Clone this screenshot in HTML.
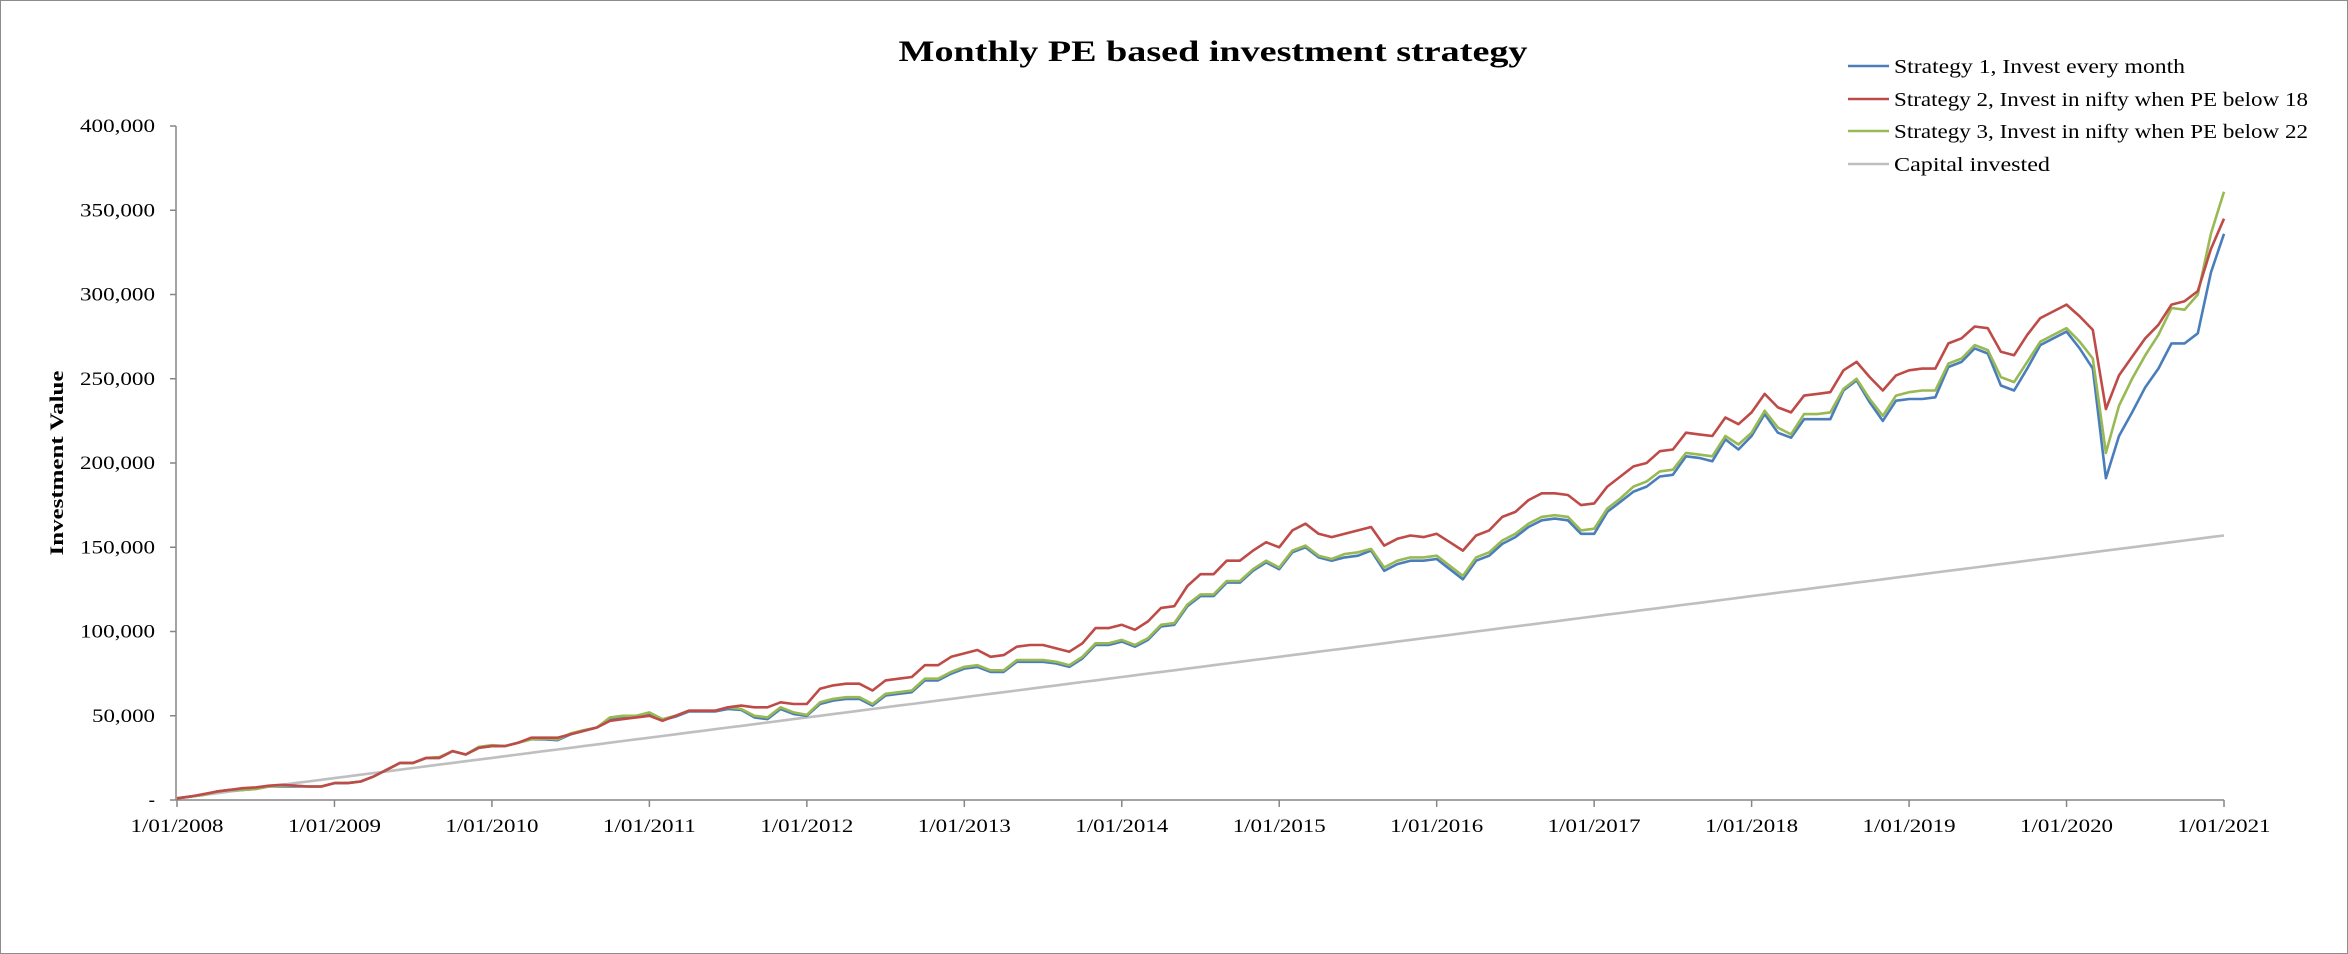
<!DOCTYPE html>
<html><head><meta charset="utf-8"><style>
html,body{margin:0;padding:0;background:#fff;}
svg{display:block;font-family:"Liberation Serif",serif;}
</style></head><body>
<svg id="chart" width="2348" height="954" viewBox="0 0 2348 954" xmlns="http://www.w3.org/2000/svg">
<rect x="0.5" y="0.5" width="2347" height="953" fill="#fff" stroke="#8c8c8c" stroke-width="1"/>
<text x="1213" y="61" text-anchor="middle" font-size="30" font-weight="bold" textLength="629" lengthAdjust="spacingAndGlyphs">Monthly PE based investment strategy</text>
<text transform="translate(63,463) rotate(-90)" text-anchor="middle" font-size="19" font-weight="bold" textLength="185" lengthAdjust="spacingAndGlyphs">Investment Value</text>
<g id="axes"></g>
<g id="series"></g>
<g id="legend"></g>
</svg>
<script>
const yearLabels = ["1/01/2008","1/01/2009","1/01/2010","1/01/2011","1/01/2012","1/01/2013","1/01/2014","1/01/2015","1/01/2016","1/01/2017","1/01/2018","1/01/2019","1/01/2020","1/01/2021"];
const yTickValues = [0,50,100,150,200,250,300,350,400];
const yTickLabels = ["-","50,000","100,000","150,000","200,000","250,000","300,000","350,000","400,000"];
const seriesNames = ["Strategy 1, Invest every month","Strategy 2, Invest in nifty when PE below 18","Strategy 3, Invest in nifty when PE below 22","Capital invested"];
// values in thousands, monthly Jan 2008 .. Jan 2021
const strategy1 = [1,2,3,5,6,6,6.5,8,8,8,8,8,
10,10,11,14,18,22,22,25,25,29,27,31,
32,32,34,36,36,35.5,39,41,43,48,49,49.5,
51.5,47.5,49.5,52.5,52.5,52.5,54,53.5,49,48,54,51,
50,57,59,60,60,56,62,63,64,71,71,75,
78,79,76,76,82,82,82,81,79,84,92,92,
94,91,95,103,104,115,121,121,129,129,136,141,
137,147,150,144,142,144,145,148,136,140,142,142,
143,137,131,142,145,152,156,162,166,167,166,158,
158,171,177,183,186,192,193,204,203,201,214,208,
216,229,218,215,226,226,226,243,249,236,225,237,
238,238,239,257,260,268,265,246,243,256,270,274,
278,268,256,191,216,230,245,256,271,271,277,313,336];
const strategy2 = [1,2,3.5,5,6,7,7.5,8.5,9,8.5,8,8,
10,10,11,14,18,22,22,25,25,29,27,31,
32,32,34,37,37,37,39,41,43,47,48,49,
50,47,50,53,53,53,55,56,55,55,58,57,
57,66,68,69,69,65,71,72,73,80,80,85,
87,89,85,86,91,92,92,90,88,93,102,102,
104,101,106,114,115,127,134,134,142,142,148,153,
150,160,164,158,156,158,160,162,151,155,157,156,
158,153,148,157,160,168,171,178,182,182,181,175,
176,186,192,198,200,207,208,218,217,216,227,223,
230,241,233,230,240,241,242,255,260,251,243,252,
255,256,256,271,274,281,280,266,264,276,286,290,
294,287,279,232,252,263,274,282,294,296,302,327,345];
const strategy3 = [1,2,3,5,6,6,6.5,8,8.5,8.5,8,8,
10,10,11,14,18,22,22,25,25.5,29,27,31.5,
32.5,32,34,36,36.5,36,39.5,41.5,43,49,50,50,
52,48,50,53,53,53,55,54,50,49,55,52,
50.5,58,60,61,61,57,63,64,65,72,72,76,
79,80,77,77,83,83,83,82,80,85,93,93,
95,92,96,104,105,116,122,122,130,130,137,142,
138,148,151,145,143,146,147,149,138,142,144,144,
145,139,133,144,147,154,158,164,168,169,168,160,
161,173,179,186,189,195,196,206,205,204,216,211,
218,231,221,217,229,229,230,244,250,238,228,240,
242,243,243,259,262,270,267,251,248,260,272,276,
280,272,262,206,234,250,264,276,292,291,300,336,361];
const capital = [1,2,3,4,5,6,7,8,9,10,11,12,
13,14,15,16,17,18,19,20,21,22,23,24,
25,26,27,28,29,30,31,32,33,34,35,36,
37,38,39,40,41,42,43,44,45,46,47,48,
49,50,51,52,53,54,55,56,57,58,59,60,
61,62,63,64,65,66,67,68,69,70,71,72,
73,74,75,76,77,78,79,80,81,82,83,84,
85,86,87,88,89,90,91,92,93,94,95,96,
97,98,99,100,101,102,103,104,105,106,107,108,
109,110,111,112,113,114,115,116,117,118,119,120,
121,122,123,124,125,126,127,128,129,130,131,132,
133,134,135,136,137,138,139,140,141,142,143,144,
145,146,147,148,149,150,151,152,153,154,155,156,157];

const NS = "http://www.w3.org/2000/svg";
const X0 = 177, X1 = 2224, Y0 = 800, Y1 = 126, YMAX = 400;
const nMonths = capital.length - 1;
function xScale(i){ return X0 + (X1 - X0) * i / nMonths; }
function yScale(v){ return Y0 - (Y0 - Y1) * v / YMAX; }
function mk(tag, attrs, parent){ const e = document.createElementNS(NS, tag); for (const k in attrs) e.setAttribute(k, attrs[k]); parent.appendChild(e); return e; }

const axes = document.getElementById('axes');
const yAxis = mk('line', {x1:X0-1, y1:Y1, x2:X0-1, y2:Y0, stroke:'#868686', 'stroke-width':1.5}, axes);


const xAxis = mk('line', {x1:X0-1, y1:Y0, x2:X1, y2:Y0, stroke:'#868686', 'stroke-width':1.5}, axes);


yTickValues.forEach((v, i) => {
  const y = yScale(v);
  const t = mk('line', {x1:X0-7, y1:y, x2:X0-1, y2:y, stroke:'#868686', 'stroke-width':1.5}, axes);
  
  
  const lab = yTickLabels[i];
  const attrs = {x:155, y:y+6, 'text-anchor':'end', 'font-size':19};
  if (lab.length > 1) { attrs.textLength = lab.length >= 7 ? 75 : 63; attrs.lengthAdjust = 'spacingAndGlyphs'; }
  const lb = mk('text', attrs, axes);
  
  
  lb.textContent = lab;
});
yearLabels.forEach((lab, i) => {
  const x = xScale(i * 12);
  const t = mk('line', {x1:x, y1:Y0, x2:x, y2:Y0+7, stroke:'#868686', 'stroke-width':1.5}, axes);
  
  
  const lb = mk('text', {x:x, y:832, 'text-anchor':'middle', 'font-size':19, textLength:93, lengthAdjust:'spacingAndGlyphs'}, axes);
  
  
  lb.textContent = lab;
});

const seriesData = [capital, strategy1, strategy3, strategy2];
const seriesColors = ['#bfbfbf', '#4a7ebb', '#98b954', '#be4b48'];
const seriesKeys = ['capital-invested-line', 'strategy-1-line', 'strategy-3-line', 'strategy-2-line'];
const sg = document.getElementById('series');
seriesData.forEach((arr, s) => {
  const d = arr.map((v, i) => (i ? 'L' : 'M') + xScale(i).toFixed(1) + ',' + yScale(v).toFixed(1)).join('');
  const p = mk('path', {d:d, fill:'none', stroke:seriesColors[s], 'stroke-width':2.6, 'stroke-linejoin':'round'}, sg);
  
  
});

const legendColors = ['#4a7ebb', '#be4b48', '#98b954', '#bfbfbf'];
const legendY = [66, 99, 131, 164];
const legendWidths = [291, 414, 414, 156];
const lg = document.getElementById('legend');
seriesNames.forEach((name, i) => {
  const g = mk('g', {}, lg);
  
  
  const ln = mk('line', {x1:1848, y1:legendY[i], x2:1889, y2:legendY[i], stroke:legendColors[i], 'stroke-width':2.6}, g);
  
  
  const tx = mk('text', {x:1894, y:legendY[i]+7, 'font-size':20, textLength:legendWidths[i], lengthAdjust:'spacingAndGlyphs'}, g);
  
  
  tx.textContent = name;
});
</script>
</body></html>
